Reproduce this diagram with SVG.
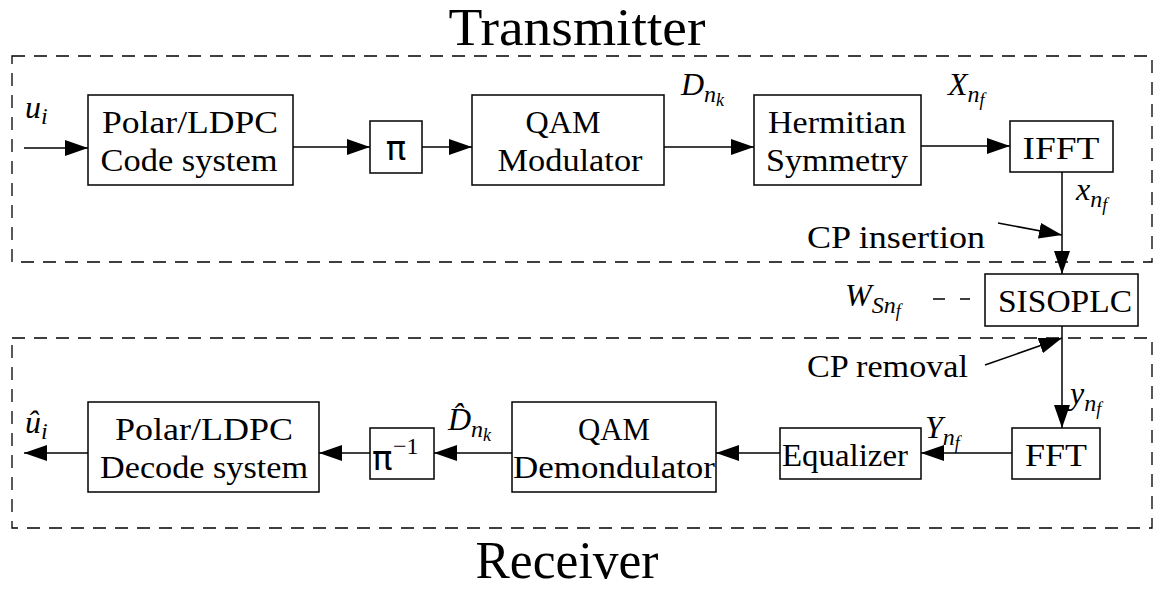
<svg xmlns="http://www.w3.org/2000/svg" width="1170" height="589" viewBox="0 0 1170 589">
<defs>
<style>
.box{fill:#fff;stroke:#000;stroke-width:1.5}
.t{font-family:"Liberation Serif",serif;font-size:32px;fill:#000;text-anchor:middle}
.ts{font-family:"Liberation Serif",serif;font-size:32px;fill:#000}
.m{font-family:"Liberation Serif",serif;font-style:italic;font-size:32px;fill:#000}
.sub{font-size:24px}
.ssub{font-size:18px}
.title{font-family:"Liberation Serif",serif;font-size:52px;fill:#000;text-anchor:middle}
.dash{fill:none;stroke:#000;stroke-width:1.3;stroke-dasharray:13 9}
.c{fill:none;stroke:#000;stroke-width:1.5}
</style>
<marker id="ah" markerUnits="userSpaceOnUse" markerWidth="23" markerHeight="16" refX="23" refY="8" orient="auto">
<path d="M0,0 L23,8 L0,16 z" fill="#000"/>
</marker>
</defs>
<rect width="1170" height="589" fill="#fff"/>

<g id="regions">
<rect class="dash" x="12" y="56" width="1140" height="206"/>
<rect class="dash" x="12" y="338" width="1140" height="190"/>
<text class="title" x="577" y="45" textLength="257" lengthAdjust="spacingAndGlyphs">Transmitter</text>
<text class="title" x="567" y="578" textLength="183" lengthAdjust="spacingAndGlyphs">Receiver</text>
</g>

<g id="connectors">
<line class="c" x1="24" y1="148" x2="88" y2="148" marker-end="url(#ah)"/>
<line class="c" x1="293" y1="147" x2="370" y2="147" marker-end="url(#ah)"/>
<line class="c" x1="422" y1="147" x2="472" y2="147" marker-end="url(#ah)"/>
<line class="c" x1="664" y1="147" x2="754" y2="147" marker-end="url(#ah)"/>
<line class="c" x1="921" y1="146" x2="1010" y2="146" marker-end="url(#ah)"/>
<line class="c" x1="1062" y1="172" x2="1062" y2="274" marker-end="url(#ah)"/>
<line class="c" x1="998" y1="223" x2="1062" y2="235" marker-end="url(#ah)"/>
<line class="c" x1="933" y1="299" x2="970" y2="299" stroke-dasharray="12 15"/>
<line class="c" x1="1062" y1="326" x2="1062" y2="428" marker-end="url(#ah)"/>
<line class="c" x1="985" y1="365" x2="1062" y2="338" marker-end="url(#ah)"/>
<line class="c" x1="1012" y1="453" x2="921" y2="453" marker-end="url(#ah)"/>
<line class="c" x1="780" y1="453" x2="716" y2="453" marker-end="url(#ah)"/>
<line class="c" x1="512" y1="453" x2="434" y2="453" marker-end="url(#ah)"/>
<line class="c" x1="370" y1="453" x2="319" y2="453" marker-end="url(#ah)"/>
<line class="c" x1="88" y1="453" x2="24" y2="453" marker-end="url(#ah)"/>
</g>

<g id="encoder">
<rect class="box" x="88" y="95" width="205" height="90"/>
<text class="t" x="190" y="133" textLength="176" lengthAdjust="spacingAndGlyphs">Polar/LDPC</text>
<text class="t" x="189" y="171" textLength="177" lengthAdjust="spacingAndGlyphs">Code system</text>
</g>
<g id="interleaver">
<rect class="box" x="370" y="121" width="52" height="52"/>
<text class="t" x="396" y="160" style="font-family:'DejaVu Sans',sans-serif;font-size:34px">π</text>
</g>
<g id="qam-mod">
<rect class="box" x="472" y="95" width="192" height="90"/>
<text class="t" x="563" y="133" textLength="75" lengthAdjust="spacingAndGlyphs">QAM</text>
<text class="t" x="570" y="171" textLength="145" lengthAdjust="spacingAndGlyphs">Modulator</text>
</g>
<g id="hermitian">
<rect class="box" x="754" y="95" width="167" height="90"/>
<text class="t" x="837" y="133" textLength="138" lengthAdjust="spacingAndGlyphs">Hermitian</text>
<text class="t" x="837" y="171" textLength="142" lengthAdjust="spacingAndGlyphs">Symmetry</text>
</g>
<g id="ifft">
<rect class="box" x="1010" y="121" width="103" height="51"/>
<text class="t" x="1061" y="159" textLength="77" lengthAdjust="spacingAndGlyphs">IFFT</text>
</g>
<g id="channel">
<rect class="box" x="985" y="274" width="153" height="52"/>
<text class="t" x="1065" y="312" textLength="134" lengthAdjust="spacingAndGlyphs">SISOPLC</text>
</g>
<g id="fft">
<rect class="box" x="1012" y="428" width="88" height="51"/>
<text class="t" x="1056" y="466" textLength="62" lengthAdjust="spacingAndGlyphs">FFT</text>
</g>
<g id="equalizer">
<rect class="box" x="780" y="428" width="141" height="51"/>
<text class="t" x="845" y="466" textLength="126" lengthAdjust="spacingAndGlyphs">Equalizer</text>
</g>
<g id="qam-demod">
<rect class="box" x="512" y="402" width="204" height="90"/>
<text class="t" x="614" y="440" textLength="72" lengthAdjust="spacingAndGlyphs">QAM</text>
<text class="t" x="614" y="478" textLength="202" lengthAdjust="spacingAndGlyphs">Demondulator</text>
</g>
<g id="deinterleaver">
<rect class="box" x="370" y="428" width="64" height="51"/>
<text class="ts" x="372" y="470" style="font-family:'DejaVu Sans',sans-serif;font-size:34px">π</text>
<text class="ts" x="393" y="454" style="font-size:24px">−1</text>
</g>
<g id="decoder">
<rect class="box" x="88" y="402" width="231" height="90"/>
<text class="t" x="204" y="440" textLength="178" lengthAdjust="spacingAndGlyphs">Polar/LDPC</text>
<text class="t" x="204" y="478" textLength="208" lengthAdjust="spacingAndGlyphs">Decode system</text>
</g>

<g id="labels">
<text class="m" x="25" y="118">u<tspan class="sub" dy="6">i</tspan></text>
<text class="m" x="25" y="433">û<tspan class="sub" dy="6">i</tspan></text>
<text class="m" x="681" y="95">D<tspan class="sub" dy="7">n</tspan><tspan class="ssub" dy="4">k</tspan></text>
<text class="m" x="948" y="95">X<tspan class="sub" dy="7">n</tspan><tspan class="ssub" dy="4">f</tspan></text>
<text class="m" x="1076" y="200">x<tspan class="sub" dy="7">n</tspan><tspan class="ssub" dy="4">f</tspan></text>
<text class="m" x="845" y="306">W<tspan class="sub" dy="7">Sn</tspan><tspan class="ssub" dy="4">f</tspan></text>
<text class="m" x="448" y="430">D̂<tspan class="sub" dy="7">n</tspan><tspan class="ssub" dy="4">k</tspan></text>
<text class="m" x="925" y="438">Y<tspan class="sub" dy="7">n</tspan><tspan class="ssub" dy="4">f</tspan></text>
<text class="m" x="1070" y="404">y<tspan class="sub" dy="7">n</tspan><tspan class="ssub" dy="4">f</tspan></text>
<text class="ts" x="807" y="248" textLength="178" lengthAdjust="spacingAndGlyphs">CP insertion</text>
<text class="ts" x="807" y="377" textLength="161" lengthAdjust="spacingAndGlyphs">CP removal</text>
</g>
</svg>
